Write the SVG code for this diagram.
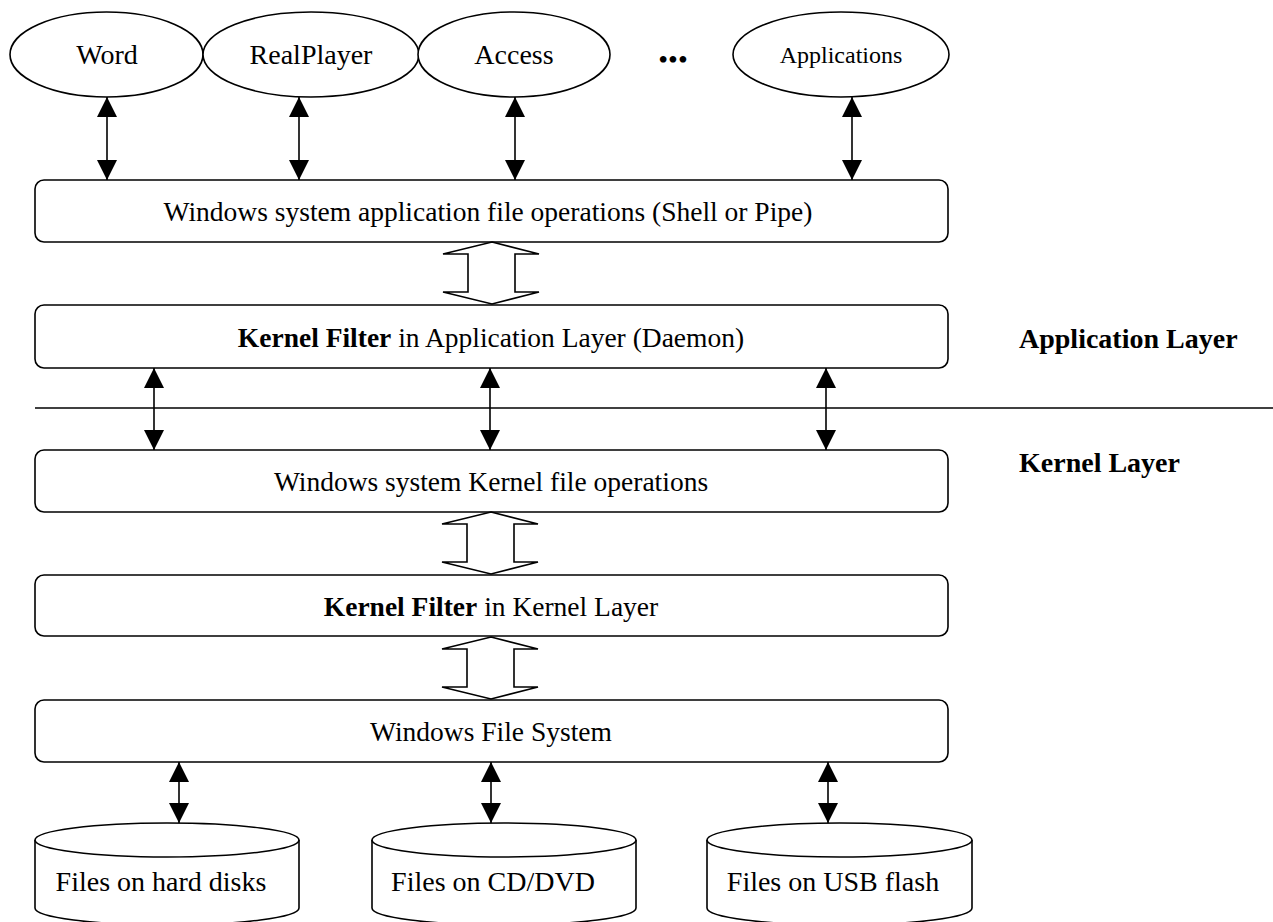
<svg xmlns="http://www.w3.org/2000/svg" width="1273" height="922" viewBox="0 0 1273 922">
<defs>
<style>
.shape{fill:#fff;stroke:#000;stroke-width:1.6}
.line{fill:none;stroke:#000;stroke-width:1.6}
.conn{fill:none;stroke:#000;stroke-width:1.6;marker-start:url(#ah);marker-end:url(#ah)}
.t{font-family:"Liberation Serif","Times New Roman",serif;font-size:28px;fill:#000;text-anchor:middle}
.bt{font-family:"Liberation Serif","Times New Roman",serif;font-size:27.5px;fill:#000;text-anchor:middle}
.b{font-weight:bold}
.lay{font-family:"Liberation Serif","Times New Roman",serif;font-size:28px;font-weight:bold;fill:#000}
</style>
<marker id="ah" markerUnits="userSpaceOnUse" markerWidth="20" markerHeight="20" viewBox="0 0 20 20" refX="20" refY="10" orient="auto-start-reverse">
<path d="M0,0 L20,10 L0,20 z" fill="#000"/>
</marker>
</defs>
<rect width="1273" height="922" fill="#fff"/>

<g id="app-word"><ellipse class="shape" cx="106.5" cy="54.5" rx="96.5" ry="42.5"/><text class="t" x="107" y="64">Word</text></g>
<g id="app-realplayer"><ellipse class="shape" cx="311" cy="54.5" rx="108" ry="42.5"/><text class="t" x="311" y="64">RealPlayer</text></g>
<g id="app-access"><ellipse class="shape" cx="514" cy="54.5" rx="96" ry="42.5"/><text class="t" x="514" y="64">Access</text></g>
<g id="app-dots"><text class="t" x="673" y="69">•••</text></g>
<g id="app-applications"><ellipse class="shape" cx="841" cy="54.5" rx="108" ry="42.5"/><text class="t" x="841" y="63" style="font-size:24px">Applications</text></g>

<g id="box-app-ops"><rect class="shape" x="35" y="180" width="913" height="62" rx="9"/><text class="bt" x="488" y="221">Windows system application file operations (Shell or Pipe)</text></g>
<g id="box-app-filter"><rect class="shape" x="35" y="305" width="913" height="63" rx="9"/><text class="bt" x="491" y="347"><tspan class="b">Kernel Filter</tspan> in Application Layer (Daemon)</text></g>
<g id="box-kernel-ops"><rect class="shape" x="35" y="450" width="913" height="62" rx="9"/><text class="bt" x="491" y="491">Windows system Kernel file operations</text></g>
<g id="box-kernel-filter"><rect class="shape" x="35" y="575" width="913" height="61" rx="9"/><text class="bt" x="491" y="616"><tspan class="b">Kernel Filter</tspan> in Kernel Layer</text></g>
<g id="box-fs"><rect class="shape" x="35" y="700" width="913" height="62" rx="9"/><text class="bt" x="491" y="741">Windows File System</text></g>

<g id="disk-hard"><path class="shape" d="M35,840 L35,908 A132,17 0 0 0 299,908 L299,840"/><ellipse class="shape" cx="167" cy="840" rx="132" ry="17"/><text class="t" x="161" y="891">Files on hard disks</text></g>
<g id="disk-cd"><path class="shape" d="M372,840 L372,908 A132,17 0 0 0 636,908 L636,840"/><ellipse class="shape" cx="504" cy="840" rx="132" ry="17"/><text class="t" x="493" y="891">Files on CD/DVD</text></g>
<g id="disk-usb"><path class="shape" d="M707,840 L707,908 A132.5,17 0 0 0 972,908 L972,840"/><ellipse class="shape" cx="839.5" cy="840" rx="132.5" ry="17"/><text class="t" x="833" y="891">Files on USB flash</text></g>

<g id="layer-labels">
<text class="lay" x="1019" y="348">Application Layer</text>
<text class="lay" x="1019" y="472">Kernel Layer</text>
</g>

<g id="connectors">
<line class="line" x1="35" y1="408" x2="1273" y2="408"/>
<line class="conn" x1="107" y1="97" x2="107" y2="180"/>
<line class="conn" x1="299" y1="97" x2="299" y2="180"/>
<line class="conn" x1="515" y1="97" x2="515" y2="180"/>
<line class="conn" x1="852" y1="97" x2="852" y2="180"/>
<line class="conn" x1="154" y1="368" x2="154" y2="450"/>
<line class="conn" x1="490" y1="368" x2="490" y2="450"/>
<line class="conn" x1="826" y1="368" x2="826" y2="450"/>
<line class="conn" x1="179" y1="762" x2="179" y2="823"/>
<line class="conn" x1="491" y1="762" x2="491" y2="823"/>
<line class="conn" x1="828" y1="762" x2="828" y2="823"/>
<polygon class="shape" points="492,242 539,254 515,254 515,292 539,292 492,304 443,292 468,292 468,254 443,254"/>
<polygon class="shape" points="491,512 538,524 514,524 514,562 538,562 491,574 442,562 467,562 467,524 442,524"/>
<polygon class="shape" points="491,637 538,649 514,649 514,687 538,687 491,699 442,687 467,687 467,649 442,649"/>
</g>
</svg>
